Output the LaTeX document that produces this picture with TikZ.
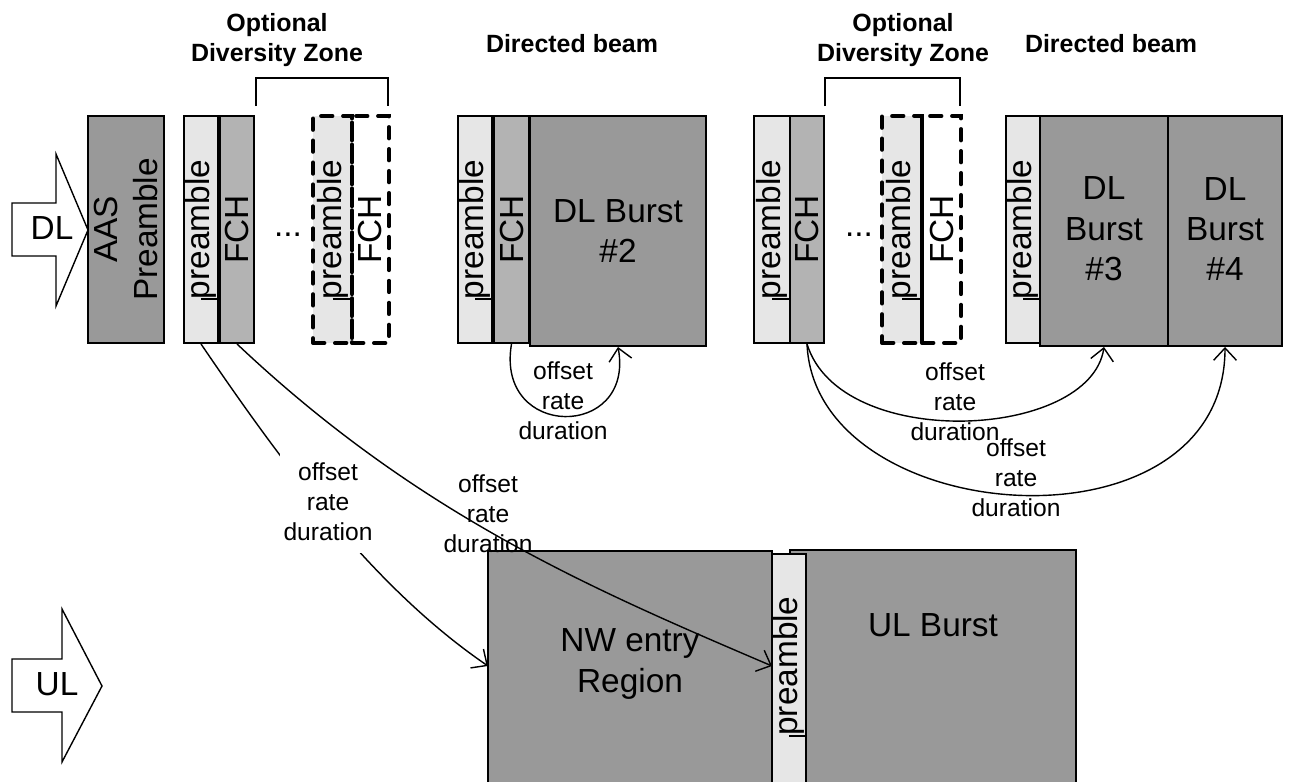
\documentclass[tikz,border=0pt]{standalone}
\usepackage{fontspec}
\setmainfont{Liberation Sans}
\usetikzlibrary{arrows.meta,fit,calc}
\definecolor{pregray}{HTML}{E6E6E6}
\definecolor{fchgray}{HTML}{B3B3B3}
\definecolor{burstgray}{HTML}{999999}
\begin{document}
\begin{tikzpicture}[x=0.02cm, y=-0.02cm,
  bx/.style={draw, line width=1.1pt, inner sep=0pt},
  dbx/.style={draw, line width=2.2pt, dash pattern=on 6.5pt off 6pt, line cap=round, inner sep=0pt},
  big/.style={font=\fontsize{19}{23}\selectfont, align=center, inner sep=0pt},
  lbl/.style={font=\fontsize{14}{17}\selectfont, align=center, inner sep=0pt},
  hdr/.style={font=\bfseries\fontsize{14.2}{17}\selectfont, align=center, inner sep=0pt},
  conn/.style={line width=0.8pt, -{Straight Barb[length=7pt,width=13pt]}},
  blk/.style={draw, line width=0.8pt, fill=white},
  brk/.style={line width=0.8pt},
  tick/.style={line width=1.1pt}]
\useasboundingbox (0,0) rectangle (1290,781);

% ---------- group 1 ----------
\draw[blk] (12,203) -- (56,203) -- (56,154) -- (88,230) -- (56,306) -- (56,256) -- (12,256) -- cycle;
\node[big] (dl) at (52,228) {DL};
\node[bx, fill=burstgray, fit={(88,116) (164,343)}] (aas) {};
\node[big, rotate=90] (aast) at (aas.center) {AAS\\Preamble};
\node[bx, fill=pregray, fit={(184,116) (218,343)}] (pre1) {};
\node[big, rotate=90] (pre1t) at (pre1.center) {preamble};
\draw[tick] (pre1t.west) -- (pre1t.west -| pre1.east);
\node[bx, fill=fchgray, fit={(220,116) (254,343)}] (fch1) {};
\node[big, rotate=90] (fch1t) at (fch1.center) {FCH};
\node[big, anchor=base] (dots1) at (288,236) {...};
\node[dbx, fill=pregray, fit={(313,116) (352,343)}] (dpre1) {};
\node[dbx, fit={(352,116) (389,343)}] (dfch1) {};
\node[big, rotate=90] (dpre1t) at (dpre1.center) {preamble};
\draw[tick] (dpre1t.west) -- (dpre1t.west -| dpre1.east);
\node[big, rotate=90] (dfch1t) at (dfch1.center) {FCH};
\draw[brk] (256,106) -- (256,78) -- (388,78) -- (388,106);
\node[hdr] (odz1) at (277,40) {Optional\\Diversity Zone};

% ---------- group 2 ----------
\node[hdr] (db1) at (572,44) {Directed beam};
\node[bx, fill=pregray, fit={(458,116) (492,343)}] (pre2) {};
\node[big, rotate=90] (pre2t) at (pre2.center) {preamble};
\draw[tick] (pre2t.west) -- (pre2t.west -| pre2.east);
\node[bx, fill=fchgray, fit={(494,116) (529,343)}] (fch2) {};
\node[big, rotate=90] (fch2t) at (fch2.center) {FCH};
\node[bx, fill=burstgray, fit={(530,116) (706,346)}] (dl2) {};
\node[big] (dl2t) at (618,231) {DL Burst\\\#2};

% ---------- group 3 ----------
\node[bx, fill=pregray, fit={(754,116) (790,343)}] (pre3) {};
\node[big, rotate=90] (pre3t) at (pre3.center) {preamble};
\draw[tick] (pre3t.west) -- (pre3t.west -| pre3.east);
\node[bx, fill=fchgray, fit={(790,116) (824,343)}] (fch3) {};
\node[big, rotate=90] (fch3t) at (fch3.center) {FCH};
\node[big, anchor=base] (dots2) at (859,236) {...};
\node[dbx, fill=pregray, fit={(882,116) (922,343)}] (dpre2) {};
\node[dbx, fit={(922,116) (961,343)}] (dfch2) {};
\node[big, rotate=90] (dpre2t) at (dpre2.center) {preamble};
\draw[tick] (dpre2t.west) -- (dpre2t.west -| dpre2.east);
\node[big, rotate=90] (dfch2t) at (dfch2.center) {FCH};
\draw[brk] (825,106) -- (825,78) -- (960,78) -- (960,106);
\node[hdr] (odz2) at (903,40) {Optional\\Diversity Zone};
\node[hdr] (db2) at (1111,44) {Directed beam};
\node[bx, fill=pregray, fit={(1006,116) (1040,343)}] (pre4) {};
\node[big, rotate=90] (pre4t) at (pre4.center) {preamble};
\draw[tick] (pre4t.west) -- (pre4t.west -| pre4.east);
\node[bx, fill=burstgray, fit={(1040,116) (1168,346)}] (dl3) {};
\node[big] (dl3t) at (1104,229) {DL\\Burst\\\#3};
\node[bx, fill=burstgray, fit={(1168,116) (1282,346)}] (dl4) {};
\node[big] (dl4t) at (1225,229) {DL\\Burst\\\#4};

% ---------- uplink ----------
\draw[blk] (12,659) -- (62,659) -- (62,609) -- (102,686) -- (62,762) -- (62,712) -- (12,712) -- cycle;
\node[big] (ul) at (57,684) {UL};
\node[bx, fill=burstgray, fit={(488,551) (772,800)}] (nw) {};
\node[bx, fill=burstgray, fit={(790,550) (1076,800)}] (ulb) {};
\node[bx, fill=pregray, fit={(772,554) (806,800)}] (ulpre) {};
\node[big] (nwt) at (630,664) {NW entry\\Region};
\node[big] (ulbt) at (933,625) {UL Burst};
\node[big, rotate=90] (ulpret) at (789,666) {preamble};
\draw[tick] (ulpret.west) -- (ulpret.west -| ulpre.east);

% ---------- connectors ----------
\coordinate (nwin) at (488,666);
\coordinate (prein) at (772,666);
\draw[conn] (pre1.south) .. controls (284,466) and (374,588) .. (nwin);
\node[lbl, fill=white, inner xsep=2pt, inner ysep=7pt] (l1) at (328,502) {offset\\rate\\duration};
\draw[conn] (fch1.south) .. controls (418,515) and (592,589) .. (prein);
\node[lbl] (l2) at (488,514) {offset\\rate\\duration};
\draw[conn] (fch2.south) .. controls (495,440) and (635,440) .. (dl2.south);
\node[lbl] (l3) at (563,401) {offset\\rate\\duration};
\draw[conn] (fch3.south) .. controls (840,452) and (1090,440) .. (dl3.south);
\node[lbl] (l4) at (955,402) {offset\\rate\\duration};
\draw[conn] (fch3.south) .. controls (815,530) and (1225,560) .. (dl4.south);
\node[lbl] (l5) at (1016,478) {offset\\rate\\duration};
\end{tikzpicture}
\end{document}
